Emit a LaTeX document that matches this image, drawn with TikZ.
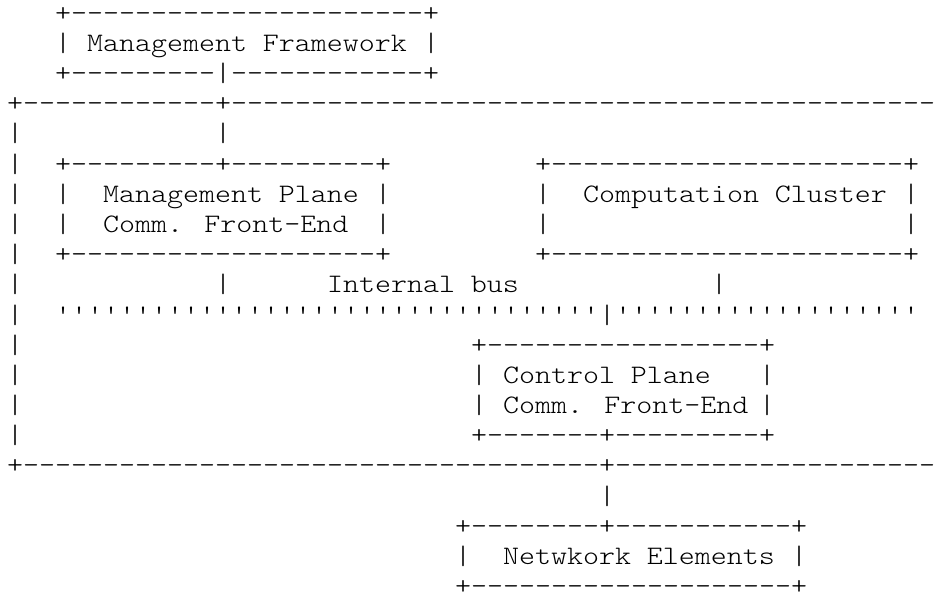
\documentclass[tikz,border=0pt]{standalone}
\usepackage{fontspec}
\newfontfamily\ascfont[FakeStretch=1.14271]{lmmonolt10-regular.otf}
\ExplSyntaxOn
\cs_new:Npn \asciirep #1 #2 { \prg_replicate:nn {#1} {#2} }
\ExplSyntaxOff
\tikzset{asc/.style={inner sep=0pt, outer sep=0pt, anchor=base west, text depth=0pt,
  font=\ascfont\fontsize{26.67pt}{30pt}\selectfont, text=black}}
% \seg{line}{column}{text}
\newcommand\seg[3]{\node[asc] (s-#1-#2) at ({7+16*#2},{21.3+30.17*(#1-1)}) {#3};}
\begin{document}
\begin{tikzpicture}[x=1pt,y=-1pt]
\useasboundingbox (0,0) rectangle (941,595);
\clip (0,0) rectangle (941,595);
% line 1-3: Management Framework
\seg{1}{3}{+\asciirep{22}{-}+}
\seg{2}{3}{|}\seg{2}{5}{Management Framework}\seg{2}{26}{|}
\seg{3}{3}{+\asciirep{9}{-}|\asciirep{12}{-}+}
% line 4-5: outer box top
\seg{4}{0}{+\asciirep{12}{-}+\asciirep{44}{-}}
\seg{5}{0}{|}\seg{5}{13}{|}
% lines 6-9: Management Plane / Computation Cluster
\seg{6}{0}{|}\seg{6}{3}{+\asciirep{9}{-}+\asciirep{9}{-}+}\seg{6}{33}{+\asciirep{22}{-}+}
\seg{7}{0}{|}\seg{7}{3}{|}\seg{7}{6}{Management Plane}\seg{7}{23}{|}\seg{7}{33}{|}\seg{7}{36}{Computation Cluster}\seg{7}{56}{|}
\seg{8}{0}{|}\seg{8}{3}{|}\seg{8}{6}{Comm. Front-End}\seg{8}{23}{|}\seg{8}{33}{|}\seg{8}{56}{|}
\seg{9}{0}{|}\seg{9}{3}{+\asciirep{19}{-}+}\seg{9}{33}{+\asciirep{22}{-}+}
% lines 10-11: internal bus
\seg{10}{0}{|}\seg{10}{13}{|}\seg{10}{20}{Internal bus}\seg{10}{44}{|}
\seg{11}{0}{|}\seg{11}{3}{\asciirep{34}{'}}\seg{11}{37}{|}\seg{11}{38}{\asciirep{19}{'}}
% lines 12-15: Control Plane
\seg{12}{0}{|}\seg{12}{29}{+\asciirep{17}{-}+}
\seg{13}{0}{|}\seg{13}{29}{|}\seg{13}{31}{Control Plane}\seg{13}{47}{|}
\seg{14}{0}{|}\seg{14}{29}{|}\seg{14}{31}{Comm. Front-End}\seg{14}{47}{|}
\seg{15}{0}{|}\seg{15}{29}{+\asciirep{7}{-}+\asciirep{9}{-}+}
% line 16-17: outer box bottom
\seg{16}{0}{+\asciirep{36}{-}+\asciirep{20}{-}}
\seg{17}{37}{|}
% lines 18-20: Network Elements
\seg{18}{28}{+\asciirep{8}{-}+\asciirep{11}{-}+}
\seg{19}{28}{|}\seg{19}{31}{Netwkork Elements}\seg{19}{49}{|}
\seg{20}{28}{+\asciirep{20}{-}+}
\end{tikzpicture}
\end{document}
